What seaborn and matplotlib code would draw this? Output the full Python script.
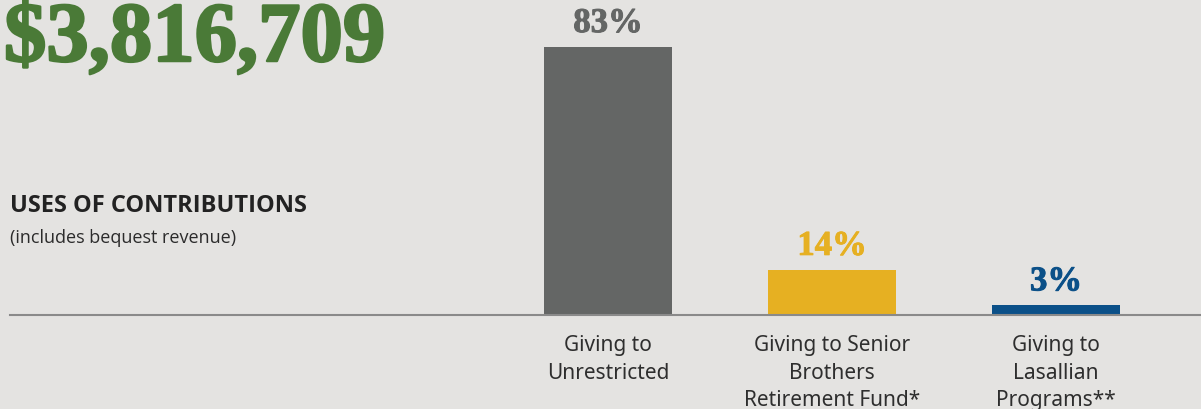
import numpy as np
import pandas as pd
import seaborn as sns
import matplotlib.pyplot as plt
import matplotlib.patheffects as pe

# --- chart data ---
categories = ["Giving to\nUnrestricted",
              "Giving to Senior\nBrothers\nRetirement Fund*",
              "Giving to\nLasallian\nPrograms**"]
shares = [83, 14, 3]
share_labels = ["83%", "14%", "3%"]
bar_colors = ["#646665", "#e6b022", "#0b5088"]
total_text = "$3,816,709"
heading = "USES OF CONTRIBUTIONS"
subheading = "(includes bequest revenue)"

BG = "#e4e3e1"

sns.set_theme(style="white")
plt.rcParams['font.family'] = ['Noto Sans', 'DejaVu Sans']

fig = plt.figure(figsize=(12.01, 4.10), dpi=100, facecolor=BG)
W, H = 1201, 410
# axes placed in pixel terms: left 10px, baseline at y=316px, top (83%) at y=48px
ax = fig.add_axes([10 / W, (H - 316) / H, (W - 10) / W, (316 - 48) / H])
ax.set_facecolor(BG)

df = pd.DataFrame({"category": categories, "share": shares})
sns.barplot(data=df, x="category", y="share", hue="category",
            palette=bar_colors, width=0.571, saturation=1, legend=False,
            linewidth=0, edgecolor="none", ax=ax)

ax.set_xlim(-(608 - 10) / 224, (1201 - 608) / 224)
ax.set_ylim(0, 83)

# percentage labels above bars
for i, (v, lab, c) in enumerate(zip(shares, share_labels, bar_colors)):
    t = ax.annotate(lab, (i, v), xytext=(0, 5), textcoords="offset points",
                    ha="center", va="bottom", fontsize=25, fontweight="bold",
                    family="Liberation Serif", color=c, clip_on=False)
    t.set_path_effects([pe.withStroke(linewidth=0.7, foreground=c)])

ax.set_xlabel("")
ax.set_ylabel("")
ax.set_yticks([])
ax.tick_params(axis="x", length=0, pad=14)
for t in ax.get_xticklabels():
    t.set_fontsize(15)
    t.set_color("#2e2e2e")
    t.set_linespacing(1.4)
    t.set_va("top")

for s in ["top", "left", "right"]:
    ax.spines[s].set_visible(False)
ax.spines["bottom"].set_color("#8a8a8a")
ax.spines["bottom"].set_linewidth(1.5)

# headline amount and section heading
amt = fig.text(4 / W, (H - 62) / H, total_text, fontsize=61, fontweight="bold",
               family="Liberation Serif", color="#4a7a37", va="baseline", ha="left")
amt.set_path_effects([pe.withStroke(linewidth=1.8, foreground="#4a7a37")])
fig.text(10 / W, (H - 212) / H, heading, fontsize=17, fontweight="bold",
         family="Open Sans", color="#222222", va="baseline", ha="left")
fig.text(10 / W, (H - 243) / H, subheading, fontsize=13,
         family="Open Sans", color="#2b2b2b", va="baseline", ha="left")

fig.savefig("out.png", dpi=100, facecolor=BG)
